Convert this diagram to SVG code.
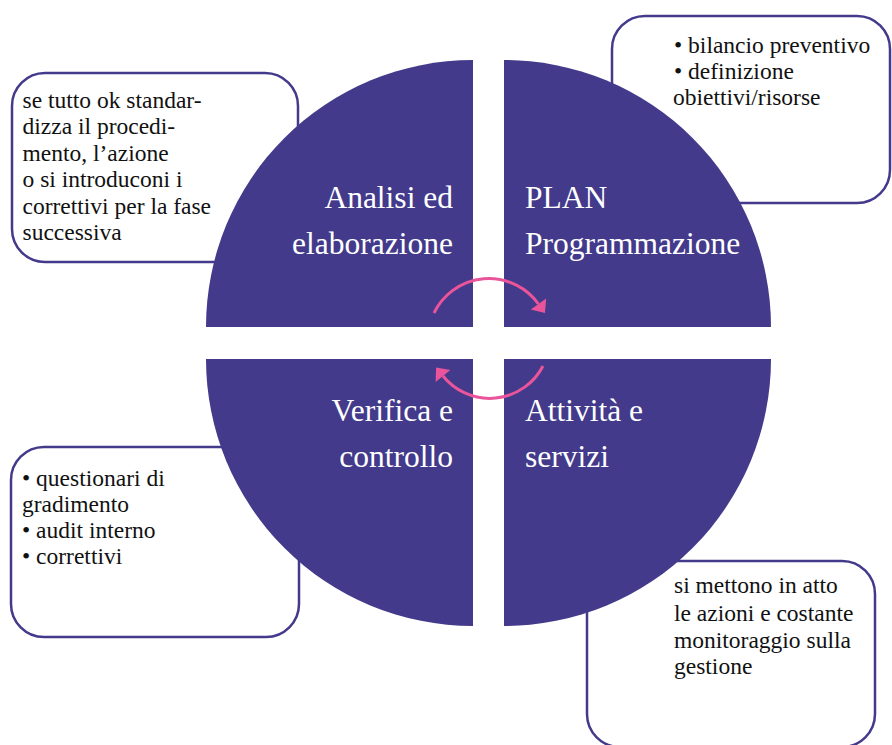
<svg xmlns="http://www.w3.org/2000/svg" width="892" height="745" viewBox="0 0 892 745">
<style>
.box{fill:#fff;stroke:#433a8c;stroke-width:2.5}
.quad{fill:#433a8b}
.t{font-family:"Liberation Serif","Times New Roman",serif;font-size:23.5px;fill:#111}
.h{font-family:"Liberation Serif","Times New Roman",serif;font-size:31.5px;fill:#fff}
.arc{fill:none;stroke:#e9549a;stroke-width:3;marker-end:url(#ah)}
</style>
<defs>
<marker id="ah" markerUnits="userSpaceOnUse" markerWidth="24" markerHeight="24" viewBox="-2 -12 16 24" refX="0" refY="0" orient="auto">
<path d="M0,-9.5 L11,0 L0,9.5 Z" fill="#e9549a"/>
</marker>
</defs>
<rect width="892" height="745" fill="#fff"/>
<g id="box-analisi">
<rect class="box" x="12" y="73" width="286" height="189" rx="33"/>
<text class="t" x="22.5"><tspan x="22.5" y="107.5">se tutto ok standar-</tspan><tspan x="22.5" y="134">dizza il procedi-</tspan><tspan x="22.5" y="160.5">mento, l’azione</tspan><tspan x="22.5" y="187">o si introduconi i</tspan><tspan x="22.5" y="213.5">correttivi per la fase</tspan><tspan x="22.5" y="240">successiva</tspan></text>
</g>
<g id="box-plan">
<rect class="box" x="612" y="16" width="278" height="187" rx="33"/>
<text class="t"><tspan x="674" y="53">• bilancio preventivo</tspan><tspan x="674" y="79">• definizione</tspan><tspan x="673" y="105">obiettivi/risorse</tspan></text>
</g>
<g id="box-verifica">
<rect class="box" x="11" y="447" width="288" height="190" rx="33"/>
<text class="t"><tspan x="22" y="486">• questionari di</tspan><tspan x="22" y="512">gradimento</tspan><tspan x="22" y="538">• audit interno</tspan><tspan x="22" y="564">• correttivi</tspan></text>
</g>
<g id="box-attivita">
<rect class="box" x="587" y="561" width="288" height="186" rx="33"/>
<text class="t"><tspan x="674" y="593">si mettono in atto</tspan><tspan x="674" y="621">le azioni e costante</tspan><tspan x="674" y="648">monitoraggio sulla</tspan><tspan x="674" y="674">gestione</tspan></text>
</g>
<g id="q-analisi">
<path class="quad" d="M473,327 L206,327 A267,267 0 0 1 473,60 Z"/>
<text class="h" text-anchor="end"><tspan x="453" y="208">Analisi ed</tspan><tspan x="453" y="254">elaborazione</tspan></text>
</g>
<g id="q-plan">
<path class="quad" d="M504,327 L504,60 A267,267 0 0 1 771,327 Z"/>
<text class="h"><tspan x="525" y="208">PLAN</tspan><tspan x="525" y="254">Programmazione</tspan></text>
</g>
<g id="q-attivita">
<path class="quad" d="M504,359 L771,359 A267,267 0 0 1 504,626 Z"/>
<text class="h"><tspan x="525" y="421">Attività e</tspan><tspan x="525" y="467">servizi</tspan></text>
</g>
<g id="q-verifica">
<path class="quad" d="M473,359 L473,626 A267,267 0 0 1 206,359 Z"/>
<text class="h" text-anchor="end"><tspan x="453" y="421">Verifica e</tspan><tspan x="453" y="467">controllo</tspan></text>
</g>
<g id="connectors">
<path class="arc" d="M434,313 A61,61 0 0 1 538.5,304"/>
<path class="arc" d="M543,366 A60,60 0 0 1 443,376"/>
</g>
</svg>
